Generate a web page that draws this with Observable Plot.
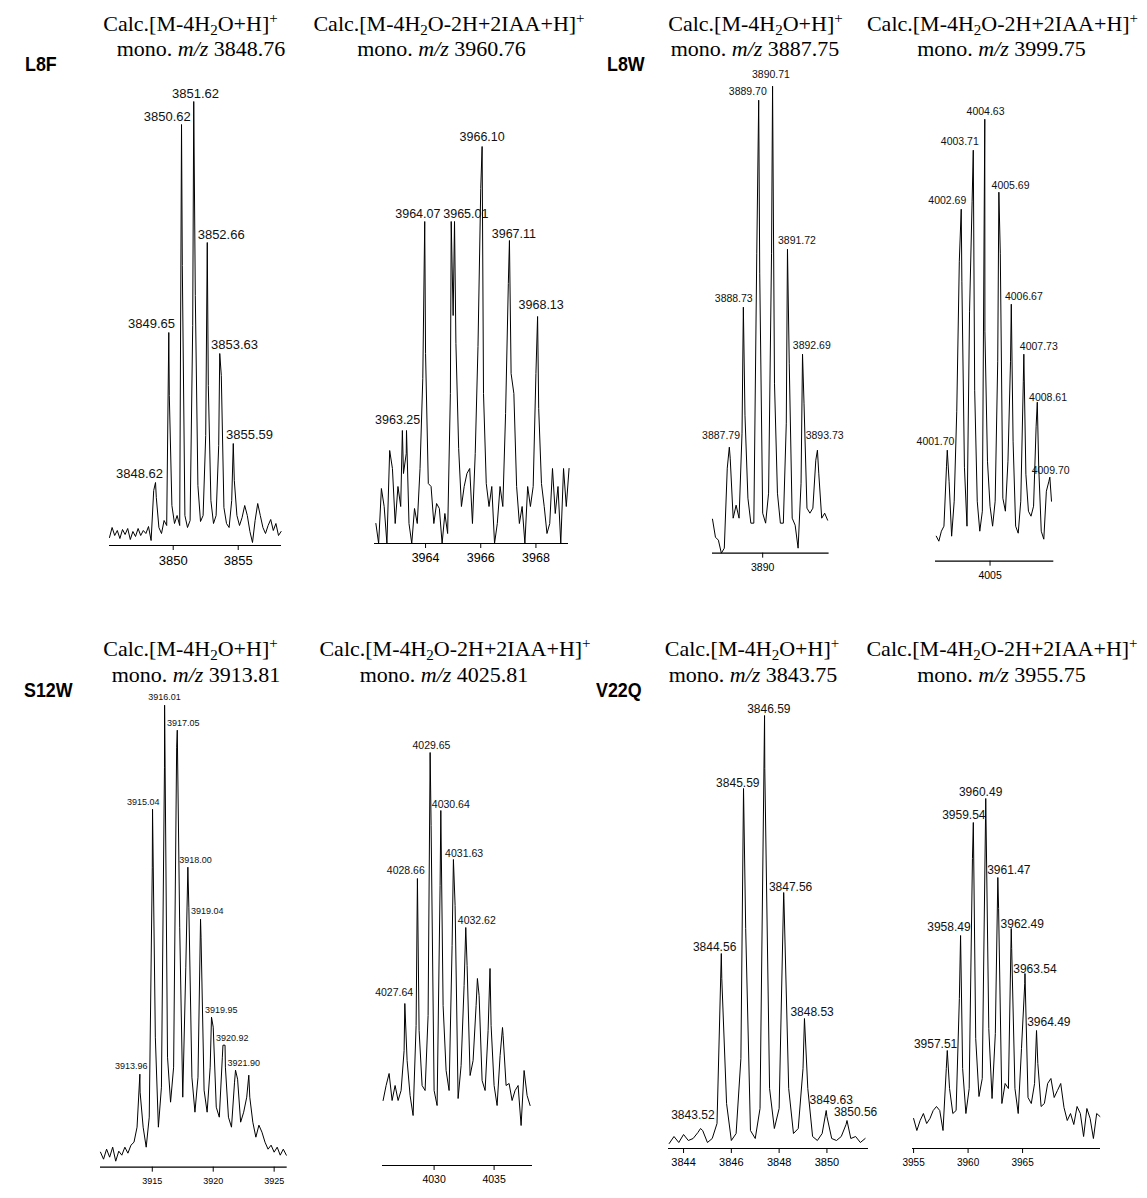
<!DOCTYPE html>
<html><head><meta charset="utf-8">
<script src="https://cdn.jsdelivr.net/npm/d3@7"></script>
<script src="https://cdn.jsdelivr.net/npm/@observablehq/plot@0.6"></script>
<style>
html,body{margin:0;padding:0;background:#fff;}
#fig{position:relative;width:1147px;height:1198px;overflow:hidden;background:#fff;}
.t{position:absolute;white-space:nowrap;font-family:"Liberation Serif","Times New Roman",serif;font-size:22px;line-height:22px;color:#000;transform:translateX(-50%);}
.t .sb{font-size:15px;position:relative;top:4px;}
.t .sp{font-size:15px;position:relative;top:-8px;}
.tag{position:absolute;white-space:nowrap;font-family:"Liberation Sans",Arial,sans-serif;font-weight:bold;font-size:21px;line-height:21px;transform-origin:0 0;transform:scaleX(0.85);color:#000;}
</style></head>
<body><div id="fig"></div>
<script>
// ---------- DATA (intensities in arbitrary units) ----------
const mutants = ["L8F", "L8W", "S12W", "V22Q"];
const monoValues = ["3848.76", "3960.76", "3887.75", "3999.75", "3913.81", "4025.81", "3843.75", "3955.75"];
const ionKinds = ["plain", "iaa", "plain", "iaa", "plain", "iaa", "plain", "iaa"];

// L8F, [M-4H2O+H]+
const l8fMonoDomain = [3845.1, 3858.33];
const l8fMonoTicks = [3850, 3855];
const l8fMonoStart = 3845.1, l8fMonoStep = 0.2;
const l8fMonoNoise = [8,18,10,15,7,16,11,17,6,14, 9,17,10,15,12,19,5,55,48,18, 12,25,20,150,40,22,30,20,280,30, 18,25,220,250,60,24,30,110,160,45, 22,30,100,170,38,22,18,45,65,30, 20,28,40,30,14,3,25,42,30,18, 12,20,26,15,22,10,14];
const l8fMonoPeaks = [[3848.64,63],[3849.66,213],[3850.64,421],[3851.58,444],[3852.62,303],[3853.58,192],[3854.62,102]];
const l8fMonoLabels = [["3848.62",3847.41,68],["3849.65",3848.33,218],["3850.62",3849.54,425],["3851.62",3851.72,448],["3852.66",3853.69,307],["3853.63",3854.72,197],["3855.59",3855.87,107]];

// L8F, [M-4H2O-2H+2IAA+H]+
const l8fIaaDomain = [3962.15, 3969.18];
const l8fIaaTicks = [3964, 3966, 3968];
const l8fIaaStart = 3962.2, l8fIaaStep = 0.1;
const l8fIaaNoise = [20,0,55,37,0,93,75,20,57,37, 70,90,20,0,35,20,75,165,190,60, 57,20,40,35,0,30,10,150,228,200, 95,37,57,70,75,20,90,197,355,150, 60,37,57,0,20,57,37,130,260,170, 150,57,20,37,0,57,37,57,170,135, 60,37,10,20,75,30,57,0,75,37,75];
const l8fIaaPeaks = [[3963.16,113],[3963.31,113],[3963.97,322],[3964.93,322],[3965.05,322],[3966.05,397],[3967.04,303],[3968.06,227]];
const l8fIaaLabels = [["3963.25",3962.99,120],["3964.07",3963.72,326],["3965.01",3965.46,326],["3966.10",3966.05,403],["3967.11",3967.2,306],["3968.13",3968.19,235]];

// L8W, [M-4H2O+H]+
const l8wMonoDomain = [3886.6, 3894.5];
const l8wMonoTicks = [3890];
const l8wMonoStart = 3886.6, l8wMonoStep = 0.2;
const l8wMonoNoise = [34,16,13,0,5,85,95,35,48,35, 120,138,55,30,30,300,280,40,30,60, 300,170,60,30,30,130,190,35,28,5, 70,150,45,40,45,93,80,35,40,33];
const l8wMonoPeaks = [[3887.74,106],[3888.69,246],[3889.73,453],[3890.67,467],[3891.68,304],[3892.7,199],[3893.71,103]];
const l8wMonoLabels = [["3887.79",3887.18,114],["3888.73",3888.04,251],["3889.70",3888.99,458],["3890.71",3890.56,475],["3891.72",3892.32,309],["3892.69",3893.33,204],["3893.73",3894.2,114]];

// L8W, [M-4H2O-2H+2IAA+H]+
const l8wIaaDomain = [4000.74, 4009.98];
const l8wIaaTicks = [4005];
const l8wIaaStart = 4000.8, l8wIaaStep = 0.2;
const l8wIaaNoise = [25,20,30,35,95,80,25,60,150,300, 280,94,35,250,360,171,60,30,50,230, 100,55,35,60,200,308,63,50,100,200, 120,35,28,60,180,87,50,45,55,135, 95,30,22,70,80,60];
const l8wIaaPeaks = [[4001.66,111],[4002.75,352],[4003.69,411],[4004.59,442],[4005.69,369],[4006.66,257],[4007.64,207],[4008.69,159],[4009.67,84]];
const l8wIaaLabels = [["4001.70",4000.74,116],["4002.69",4001.66,357],["4003.71",4002.64,416],["4004.63",4004.65,446],["4005.69",4006.6,372],["4006.67",4007.64,261],["4007.73",4008.81,211],["4008.61",4009.53,160],["4009.70",4009.73,87]];

// S12W, [M-4H2O+H]+
const s12wMonoDomain = [3910.75, 3926.07];
const s12wMonoTicks = [3915, 3920, 3925];
const s12wMonoStart = 3910.75, s12wMonoStep = 0.25;
const s12wMonoNoise = [15,8,18,10,20,6,16,12,20,14, 22,25,40,75,40,20,50,300,130,40, 80,400,110,65,100,420,240,70,200,260, 90,55,90,230,77,55,100,140,60,50, 110,100,50,40,85,88,45,55,70,70, 45,30,42,35,25,18,22,15,20,12, 18,12];
const s12wMonoPeaks = [[3913.98,93],[3915.02,358],[3916.01,462],[3917.05,437],[3917.92,300],[3918.96,248],[3919.86,150],[3920.8,122],[3920.97,122],[3921.83,97],[3922.92,92]];
const s12wMonoLabels = [["3913.96",3913.28,98],["3915.04",3914.26,362],["3916.01",3916.01,467],["3917.05",3917.54,441],["3918.00",3918.55,304],["3919.04",3919.51,253],["3919.95",3920.66,154],["3920.92",3921.56,126],["3921.90",3922.51,101]];

// S12W, [M-4H2O-2H+2IAA+H]+
const s12wIaaDomain = [4025.7, 4038.2];
const s12wIaaTicks = [4030, 4035];
const s12wIaaStart = 4025.75, s12wIaaStep = 0.25;
const s12wIaaNoise = [65,80,92,65,80,65,75,115,105,70, 50,140,135,80,75,150,340,75,60,280, 160,95,75,220,260,67,100,180,200,90, 105,160,170,85,75,135,140,80,60,110, 130,80,82,65,75,80,40,95,70,60];
const s12wIaaPeaks = [[4027.56,162],[4028.61,287],[4029.67,413],[4030.56,355],[4031.61,306],[4032.64,238],[4033.61,187],[4034.66,197],[4035.7,138]];
const s12wIaaLabels = [["4027.64",4026.67,170],["4028.66",4027.64,292],["4029.65",4029.78,417],["4030.64",4031.39,358],["4031.63",4032.5,309],["4032.62",4033.56,242]];

// V22Q, [M-4H2O+H]+
const v22qMonoDomain = [3843.37, 3851.74];
const v22qMonoTicks = [3844, 3846, 3848, 3850];
const v22qMonoStart = 3843.4, v22qMonoStep = 0.2;
const v22qMonoNoise = [5,12,6,14,8,10,16,18,6,10, 25,170,45,8,15,90,220,18,10,40, 380,60,20,40,250,60,15,20,80,60, 12,8,15,32,10,8,12,24,10,12, 6,10];
const v22qMonoPeaks = [[3844.71,20],[3845.58,195],[3846.51,360],[3847.39,433],[3848.19,256],[3849.06,130],[3849.97,38],[3850.84,28]];
const v22qMonoLabels = [["3843.52",3844.39,30],["3844.56",3845.3,198],["3845.59",3846.27,362],["3846.59",3847.57,436],["3847.56",3848.48,258],["3848.53",3849.38,133],["3849.63",3850.18,45],["3850.56",3851.2,33]];

// V22Q, [M-4H2O-2H+2IAA+H]+
const v22qIaaDomain = [3954.9, 3972.15];
const v22qIaaTicks = [3955, 3960, 3965];
const v22qIaaStart = 3955.0, v22qIaaStep = 0.3;
const v22qIaaNoise = [30,18,28,35,25,30,38,42,38,18, 80,60,35,38,150,80,35,60,290,110, 52,70,330,120,50,115,240,45,65,60, 200,60,35,100,165,51,45,65,85,42, 45,65,70,51,58,65,41,28,35,24, 42,35,12,40,30,10,35,32];
const v22qIaaPeaks = [[3958.09,98],[3959.31,213],[3960.48,326],[3961.62,350],[3962.73,271],[3963.96,220],[3965.22,175],[3966.28,118]];
const v22qIaaLabels = [["3957.51",3957.02,101],["3958.49",3958.24,218],["3959.54",3959.61,330],["3960.49",3961.15,353],["3961.47",3963.74,275],["3962.49",3964.97,221],["3963.54",3966.13,176],["3964.49",3967.41,123]];

// ---------- LAYOUT (pixels) ----------
const panelLayout = [
  {left:109, right:281, axisY:545, top:60, labelFont:13, tickFont:13, tc1:190.5, tc2:201},
  {left:374, right:568, axisY:543, top:60, labelFont:12.5, tickFont:12.5, tc1:449, tc2:441.5},
  {left:711.7, right:828.3, axisY:552.7, top:60, labelFont:10.5, tickFont:10.5, tc1:755.5, tc2:755},
  {left:935, right:1053.3, axisY:560.7, top:60, labelFont:10.5, tickFont:10.5, tc1:1002.5, tc2:1001.5},
  {left:100, right:286.7, axisY:1166.7, top:690, labelFont:9, tickFont:9, tc1:190.5, tc2:196},
  {left:381.7, right:531.7, axisY:1165, top:690, labelFont:10.5, tickFont:10.5, tc1:455, tc2:444},
  {left:668, right:868, axisY:1148, top:690, labelFont:12, tickFont:11, tc1:752, tc2:753},
  {left:912, right:1100, axisY:1148, top:690, labelFont:12, tickFont:10, tc1:1002, tc2:1001.5}
];
const rowBaselines = [[31, 56], [656, 682]];
const tagPos = [[25, 71], [607, 71], [24, 697], [596, 697]];

const panels = [
  {domain:l8fMonoDomain, ticks:l8fMonoTicks, start:l8fMonoStart, step:l8fMonoStep, noise:l8fMonoNoise, peaks:l8fMonoPeaks, labels:l8fMonoLabels},
  {domain:l8fIaaDomain, ticks:l8fIaaTicks, start:l8fIaaStart, step:l8fIaaStep, noise:l8fIaaNoise, peaks:l8fIaaPeaks, labels:l8fIaaLabels},
  {domain:l8wMonoDomain, ticks:l8wMonoTicks, start:l8wMonoStart, step:l8wMonoStep, noise:l8wMonoNoise, peaks:l8wMonoPeaks, labels:l8wMonoLabels},
  {domain:l8wIaaDomain, ticks:l8wIaaTicks, start:l8wIaaStart, step:l8wIaaStep, noise:l8wIaaNoise, peaks:l8wIaaPeaks, labels:l8wIaaLabels},
  {domain:s12wMonoDomain, ticks:s12wMonoTicks, start:s12wMonoStart, step:s12wMonoStep, noise:s12wMonoNoise, peaks:s12wMonoPeaks, labels:s12wMonoLabels},
  {domain:s12wIaaDomain, ticks:s12wIaaTicks, start:s12wIaaStart, step:s12wIaaStep, noise:s12wIaaNoise, peaks:s12wIaaPeaks, labels:s12wIaaLabels},
  {domain:v22qMonoDomain, ticks:v22qMonoTicks, start:v22qMonoStart, step:v22qMonoStep, noise:v22qMonoNoise, peaks:v22qMonoPeaks, labels:v22qMonoLabels},
  {domain:v22qIaaDomain, ticks:v22qIaaTicks, start:v22qIaaStart, step:v22qIaaStep, noise:v22qIaaNoise, peaks:v22qIaaPeaks, labels:v22qIaaLabels}
];

const fig = document.getElementById("fig");

function buildProfile(p) {
  const pts = p.noise.map((h, i) => ({mz: +(p.start + i * p.step).toFixed(4), h}));
  for (const [mz, h] of p.peaks) pts.push({mz, h});
  pts.sort((a, b) => a.mz - b.mz);
  return pts;
}

function addDiv(cls, html, left, top) {
  const d = document.createElement("div");
  d.className = cls;
  d.innerHTML = html;
  d.style.left = left + "px";
  d.style.top = top + "px";
  fig.appendChild(d);
}

// titles
panels.forEach((p, i) => {
  const L = panelLayout[i];
  const row = i < 4 ? 0 : 1;
  const [b1, b2] = rowBaselines[row];
  const formula = ionKinds[i] === "plain"
    ? 'Calc.[M-4H<span class="sb">2</span>O+H]<span class="sp">+</span>'
    : 'Calc.[M-4H<span class="sb">2</span>O-2H+2IAA+H]<span class="sp">+</span>';
  addDiv("t", formula, L.tc1, b1 - 18.4);
  addDiv("t", 'mono. <i>m/z</i> ' + monoValues[i], L.tc2, b2 - 18.4);
});
mutants.forEach((m, i) => addDiv("tag", m, tagPos[i][0], tagPos[i][1] - 17.8));

// spectra
const ML = 40, MR = 40, MB = 35;
panels.forEach((p, i) => {
  const L = panelLayout[i];
  const width = L.right - L.left + ML + MR;
  const height = L.axisY - L.top + MB;
  const pts = buildProfile(p);
  const chart = Plot.plot({
    width, height,
    marginLeft: ML, marginRight: MR, marginTop: 0, marginBottom: MB,
    style: {background: "transparent", fontFamily: "'Liberation Sans', Arial, sans-serif", fontSize: L.tickFont + "px", color: "#000", overflow: "visible"},
    x: {domain: p.domain, ticks: p.ticks, tickSize: 5, tickPadding: 5, tickFormat: d => String(d), label: null},
    y: {domain: [0, L.axisY - L.top], axis: null},
    marks: [
      Plot.ruleY([0], {stroke: "#000", strokeWidth: 1.2}),
      Plot.line(pts, {x: "mz", y: "h", stroke: "#000", strokeWidth: 1}),
      Plot.text(p.labels, {x: d => d[1], y: d => d[2], text: d => d[0], fontSize: L.labelFont, lineAnchor: "bottom", textAnchor: "middle", fill: "#111"})
    ]
  });
  chart.style.position = "absolute";
  chart.style.left = (L.left - ML) + "px";
  chart.style.top = L.top + "px";
  chart.style.maxWidth = "none";
  fig.appendChild(chart);
});
</script>
</body></html>
